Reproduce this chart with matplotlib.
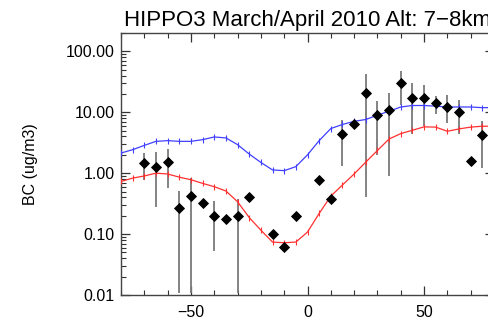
import matplotlib
matplotlib.use("Agg")
import matplotlib.pyplot as plt
import numpy as np
from matplotlib.ticker import LogLocator, MultipleLocator, FixedLocator, FixedFormatter, NullFormatter

plt.rcParams['font.family'] = ['Liberation Sans', 'DejaVu Sans']

# Observations (latitude, BC, error bar low/high)
obs_lat = [-70, -65, -60, -55, -50, -45, -40, -35, -30, -25, -15, -10, -5,
           5, 10, 15, 20, 25, 30, 35, 40, 45, 50, 55, 60, 65, 70, 75]
obs_bc = [1.46, 1.24, 1.54, 0.27, 0.42, 0.32, 0.20, 0.176, 0.20, 0.40, 0.10, 0.061, 0.197,
          0.775, 0.376, 4.46, 6.5, 21.0, 8.96, 10.8, 29.9, 17.4, 17.4, 14.4, 12.2, 10.0, 1.6, 4.19]
obs_lo = [0.775, 0.28, 0.565, 0.0106, 0.0106, 0.32, 0.052, 0.176, 0.0106, 0.40, 0.10, 0.061, 0.197,
          0.775, 0.376, 1.32, 6.5, 0.40, 2.0, 0.90, 13.4, 4.46, 6.05, 9.2, 6.7, 4.46, 1.6, 1.21]
obs_hi = [2.14, 2.22, 2.49, 0.515, 0.83, 0.32, 0.35, 0.176, 0.376, 0.40, 0.10, 0.061, 0.197,
          0.775, 0.376, 7.6, 6.5, 42.0, 15.3, 21.0, 46.7, 29.9, 28.1, 18.5, 19.2, 15.7, 1.6, 7.1]

# Model curves
mod_lat = [-80, -75, -70, -65, -60, -55, -50, -45, -40, -35, -30, -25, -20, -15, -10, -5,
           0, 5, 10, 15, 20, 25, 30, 35, 40, 45, 50, 55, 60, 65, 70, 75, 80]
blue_bc = [2.14, 2.43, 2.86, 3.33, 3.42, 3.33, 3.33, 3.55, 3.93, 3.79, 2.94, 2.06, 1.50, 1.13, 1.10, 1.28,
           2.0, 3.42, 5.4, 6.3, 7.1, 7.6, 8.96, 10.4, 12.2, 12.9, 12.9, 12.6, 12.2, 12.2, 12.2, 11.9, 11.9]
red_bc = [0.73, 0.83, 0.90, 1.0, 0.97, 0.86, 0.78, 0.68, 0.60, 0.51, 0.34, 0.187, 0.116, 0.074, 0.072, 0.074,
          0.108, 0.218, 0.42, 0.64, 0.97, 1.52, 2.36, 3.64, 4.46, 5.06, 5.76, 5.7, 4.87, 5.33, 5.7, 5.9, 5.9]

ytick_vals = [0.01, 0.1, 1.0, 10.0, 100.0]
ytick_labels = ['0.01', '0.10', '1.00', '10.00', '100.00']
xtick_vals = [-50, 0, 50]

fig = plt.figure(figsize=(4.89, 3.21), dpi=100)
ax = fig.add_axes([121/489, 26/321, 373/489, 262/321])

obs_bc_a = np.array(obs_bc)
yerr = np.vstack([obs_bc_a - np.array(obs_lo), np.array(obs_hi) - obs_bc_a])
ax.errorbar(obs_lat, obs_bc, yerr=yerr, fmt='none', ecolor='#7a7a7a', elinewidth=1.3, capsize=0, zorder=2)

ax.plot(mod_lat, blue_bc, color='#4040ff', lw=0.9, marker='|', ms=4, mew=0.8, zorder=3)
ax.plot(mod_lat, red_bc, color='#ff3030', lw=0.9, marker='|', ms=4, mew=0.8, zorder=3)

ax.plot(obs_lat, obs_bc, linestyle='none', marker='D', ms=4.8, mew=0.6, color='black', zorder=4)

ax.set_yscale('log')
ax.set_xlim(-80, 80)
ax.set_ylim(0.01, 200)

ax.yaxis.set_major_locator(FixedLocator(ytick_vals))
ax.yaxis.set_major_formatter(FixedFormatter(ytick_labels))
ax.yaxis.set_minor_locator(LogLocator(base=10, subs=np.arange(2, 10), numticks=20))
ax.yaxis.set_minor_formatter(NullFormatter())
ax.xaxis.set_major_locator(FixedLocator(xtick_vals))
ax.xaxis.set_minor_locator(MultipleLocator(10))

ax.tick_params(which='both', direction='in', top=True, right=True, labelsize=11.5, colors='#333333', labelcolor='black')
ax.tick_params(which='major', length=6.5, width=0.9)
ax.tick_params(which='minor', length=3.6, width=0.8)
ax.tick_params(axis='x', pad=7.5)
ax.tick_params(axis='y', pad=4.5)

for s in ax.spines.values():
    s.set_color('#444444')
    s.set_linewidth(1.0)

ax.set_ylabel('BC (ug/m3)', fontsize=11.5, labelpad=20)
ax.set_title('HIPPO3 March/April 2010 Alt: 7\u22128km', fontsize=16, pad=5)

fig.savefig('out.png', dpi=100)
